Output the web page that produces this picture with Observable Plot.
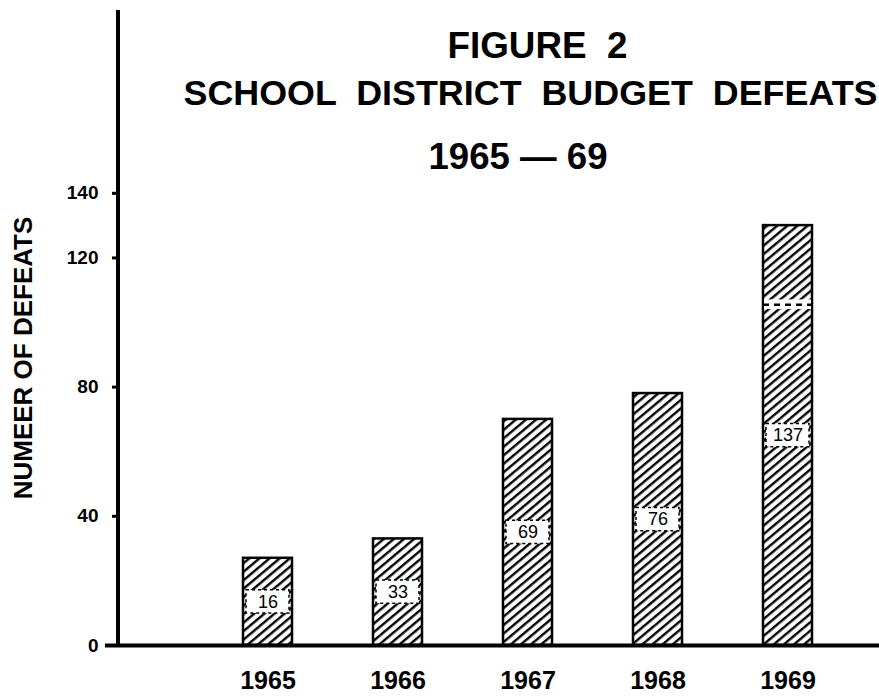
<!DOCTYPE html>
<html>
<head>
<meta charset="utf-8">
<script src="https://cdn.jsdelivr.net/npm/d3@7"></script>
<script src="https://cdn.jsdelivr.net/npm/@observablehq/plot@0.6"></script>
<style>
  body { margin: 0; background: #fff; }
  #chart svg text { white-space: pre; }
</style>
</head>
<body>
<div id="chart"></div>
<script>
// ---- data ----
const years = ["1965", "1966", "1967", "1968", "1969"];
// bar heights as drawn against the left axis
const barHeights = [27, 33, 70, 78, 130];
// numbers printed inside the bars
const printedValues = ["16", "33", "69", "76", "137"];
const yTicks = [0, 40, 80, 120, 140];
const titleLines = ["FIGURE  2", "SCHOOL  DISTRICT  BUDGET  DEFEATS", "1965 — 69"];
const yLabel = "NUMEER OF DEFEATS";
// dashed break drawn across the tall 1969 bar (value range)
const breakYear = ["1969"];
const breakLow = [104];
const breakHigh = [107];

const data = years.map((year, i) => ({ year, h: barHeights[i], label: printedValues[i] }));
const breaks = breakYear.map((year, i) => ({ year, y1: breakLow[i], y2: breakHigh[i] }));

const font = "'Liberation Sans', Arial, Helvetica, sans-serif";
const mL = 118, mT = 10;

// title layout: [left x, cap-top y, width, font size]
const titleLayout = [
  [447, 32, 180, 36],
  [183, 80, 694, 35],
  [428, 143, 179, 36]
];

const plot = Plot.plot({
  width: 879,
  height: 700,
  marginLeft: mL,
  marginRight: 0,
  marginTop: mT,
  marginBottom: 55,
  style: { fontFamily: font, color: "#000", background: "#fff" },
  x: { domain: years, paddingInner: 0.62, paddingOuter: 0.715, align: 0.65 },
  y: { domain: [0, 196.6] },
  marks: [
    Plot.barY(data, { x: "year", y: "h", fill: "white", stroke: "black", strokeWidth: 2.5 }),
    // white label boxes with dashed border
    Plot.barY(data, { x: "year", y1: d => d.h / 2 - 3.6, y2: d => d.h / 2 + 3.6, fill: "white", stroke: "black", strokeWidth: 1.5, strokeDasharray: "3 3", insetLeft: 3, insetRight: 3 }),
    Plot.text(data, { x: "year", y: d => d.h / 2, text: "label", fontSize: 18, fill: "black" }),
    // break across the 1969 bar
    Plot.barY(breaks, { x: "year", y1: "y1", y2: "y2", fill: "white", insetLeft: 1, insetRight: 1 }),
    Plot.tickY(breaks, { x: "year", y: d => (d.y1 + d.y2) / 2, stroke: "black", strokeWidth: 2.5, strokeDasharray: "6 5" }),
    Plot.ruleY([0], { strokeWidth: 4, insetLeft: -13 }),
    Plot.axisY(yTicks, { tickSize: 6, tickPadding: 14, fontSize: 19, fontWeight: "bold", strokeWidth: 3, label: null }),
    Plot.axisX({ tickSize: 0, tickPadding: 26, fontSize: 25, fontWeight: "bold", label: null }),
    Plot.text([yLabel], { frameAnchor: "left", textAnchor: "middle", rotate: -90, dx: -(mL - 23), dy: 30, fontSize: 26, fontWeight: "bold" }),
    ...titleLines.map((t, i) => Plot.text([t], {
      frameAnchor: "top-left",
      dx: titleLayout[i][0] - mL,
      dy: titleLayout[i][1] - mT,
      textAnchor: "start",
      lineAnchor: "top",
      fontSize: titleLayout[i][3],
      fontWeight: "bold"
    }))
  ]
});

document.getElementById("chart").appendChild(plot);

const svg = d3.select(plot.tagName.toLowerCase() === "svg" ? plot : plot.querySelector("svg"));

// hatch pattern for the bars ("/" lines at about 40 degrees)
const defs = svg.insert("defs", ":first-child");
const pat = defs.append("pattern")
  .attr("id", "hatch")
  .attr("patternUnits", "userSpaceOnUse")
  .attr("width", 6.5)
  .attr("height", 20)
  .attr("patternTransform", "rotate(50)");
pat.append("rect").attr("width", 6.5).attr("height", 20).attr("fill", "white");
pat.append("line").attr("x1", 3).attr("y1", -1).attr("x2", 3).attr("y2", 21)
  .attr("stroke", "black").attr("stroke-width", 2.4);
svg.select('g[aria-label="bar"]').selectAll("rect").attr("fill", "url(#hatch)");

// vertical axis line
const ys = plot.scale("y");
svg.append("line")
  .attr("x1", mL).attr("x2", mL)
  .attr("y1", mT).attr("y2", ys.apply(0))
  .attr("stroke", "black").attr("stroke-width", 4);

// fit title lines to the widths seen in the picture
svg.selectAll("text").each(function () {
  const idx = titleLines.indexOf(this.textContent);
  if (idx >= 0) {
    d3.select(this).attr("textLength", titleLayout[idx][2]).attr("lengthAdjust", "spacingAndGlyphs");
  }
});
</script>
</body>
</html>
